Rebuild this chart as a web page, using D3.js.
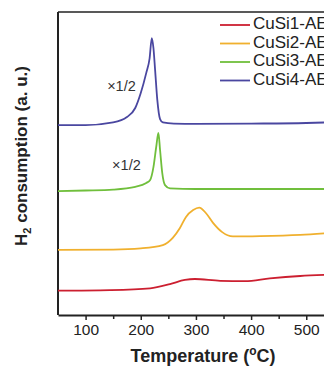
<!DOCTYPE html>
<html>
<head>
<meta charset="utf-8">
<script src="https://cdn.jsdelivr.net/npm/d3@7"></script>
<style>
  body { margin: 0; background: #fff; }
  svg { display: block; font-family: Arial, "Liberation Sans", sans-serif; }
</style>
</head>
<body>
<div id="chart"></div>
<script>
const width = 324;
const height = 366;
const margin = {'top': 12, 'bottom': 51, 'left': 58};

// series names and colours
const seriesNames = ['CuSi1-AE', 'CuSi2-AE', 'CuSi3-AE', 'CuSi4-AE'];
const seriesColors = ['#cc1f30', '#f0b02e', '#70bf3c', '#4a47a0'];

// temperature (oC) and H2 signal (a.u., offset per curve)
const cusi1T = [50, 144, 217, 253, 280, 298, 344, 389, 434, 489, 540];
const cusi1V = [0.81, 0.83, 0.89, 1.03, 1.17, 1.2, 1.14, 1.13, 1.22, 1.3, 1.34];

const cusi2T = [50, 150, 200, 240, 258, 271, 282, 295, 306, 318, 331, 347, 367, 416, 489, 540];
const cusi2V = [2.17, 2.18, 2.22, 2.33, 2.57, 2.9, 3.27, 3.5, 3.58, 3.4, 3.07, 2.77, 2.62, 2.63, 2.67, 2.73];

const cusi3T = [50, 100, 150, 190, 210, 217, 223, 228, 232, 235, 239, 244, 253, 300, 400, 540];
const cusi3V = [4.13, 4.15, 4.18, 4.27, 4.4, 4.5, 4.93, 5.6, 6.07, 5.5, 4.73, 4.33, 4.22, 4.2, 4.2, 4.2];

const cusi4T = [50, 100, 150, 175, 190, 200, 210, 216, 220, 223, 226, 230, 235, 240, 260, 300, 400, 500, 540];
const cusi4V = [6.33, 6.33, 6.42, 6.6, 6.9, 7.4, 8.07, 8.55, 9.23, 8.9, 8.17, 7.17, 6.53, 6.42, 6.38, 6.37, 6.38, 6.4, 6.42];

const xTicks = [100, 200, 300, 400, 500];
const xMinorTicks = [150, 250, 350, 450, 550];

// notes on the halved curves
const notes = [{'text': '\u00d71/2', 't': 165, 'v': 7.6}, {'text': '\u00d71/2', 't': 174, 'v': 4.97}];

const series = [
    {name: seriesNames[0], color: seriesColors[0], t: cusi1T, v: cusi1V},
    {name: seriesNames[1], color: seriesColors[1], t: cusi2T, v: cusi2V},
    {name: seriesNames[2], color: seriesColors[2], t: cusi3T, v: cusi3V},
    {name: seriesNames[3], color: seriesColors[3], t: cusi4T, v: cusi4V}
];

const svg = d3.select('#chart')
    .append('svg')
    .attr('width', width)
    .attr('height', height);

// x scale runs past the right edge (figure is cropped)
const xScale = d3.scaleLinear()
    .domain([50, 600])
    .range([margin.left, margin.left + 550 * 0.5517]);

const yScale = d3.scaleLinear()
    .domain([0, 10.1])
    .range([height - margin.bottom, margin.top]);

const plotBottom = height - margin.bottom;

// minor ticks
svg.append('g')
    .attr('transform', 'translate(0,' + plotBottom + ')')
    .call(d3.axisBottom(xScale).tickValues(xMinorTicks).tickSize(4).tickFormat(''))
    .call(g => g.select('.domain').remove())
    .selectAll('line').attr('stroke', '#222').attr('stroke-width', 1.5);

// x axis
const xg = svg.append('g')
    .attr('transform', 'translate(0,' + plotBottom + ')')
    .call(d3.axisBottom(xScale).tickValues(xTicks).tickSize(5).tickSizeOuter(0).tickPadding(4));
xg.select('.domain').attr('stroke', '#222').attr('stroke-width', 2);
xg.selectAll('line').attr('stroke', '#222').attr('stroke-width', 1.5);
xg.selectAll('text')
    .attr('font-size', 15.5)
    .attr('font-family', 'Arial, "Liberation Sans", sans-serif')
    .attr('fill', '#222');

// left axis (no ticks) and top border
svg.append('line')
    .attr('x1', margin.left).attr('x2', margin.left)
    .attr('y1', margin.top).attr('y2', plotBottom)
    .attr('stroke', '#222').attr('stroke-width', 2);
svg.append('line')
    .attr('x1', margin.left).attr('x2', width)
    .attr('y1', margin.top).attr('y2', margin.top)
    .attr('stroke', '#222').attr('stroke-width', 1.5);

// curves
const line = d3.line()
    .x(d => xScale(d[0]))
    .y(d => yScale(d[1]))
    .curve(d3.curveMonotoneX);

series.forEach(s => {
    svg.append('path')
        .datum(s.t.map((t, i) => [t, s.v[i]]))
        .attr('fill', 'none')
        .attr('stroke', s.color)
        .attr('stroke-width', 1.8)
        .attr('d', line);
});

// x1/2 notes
notes.forEach(n => {
    svg.append('text')
        .attr('x', xScale(n.t))
        .attr('y', yScale(n.v))
        .attr('text-anchor', 'middle')
        .attr('dominant-baseline', 'middle')
        .attr('font-size', 14.5)
        .attr('fill', '#333')
        .text(n.text);
});

// legend
const legend = svg.append('g');
series.forEach((s, i) => {
    const y = 25 + i * 18.5;
    legend.append('line')
        .attr('x1', 220).attr('x2', 250)
        .attr('y1', y).attr('y2', y)
        .attr('stroke', s.color)
        .attr('stroke-width', 1.8);
    legend.append('text')
        .attr('x', 253)
        .attr('y', y)
        .attr('dominant-baseline', 'middle')
        .attr('font-size', 17)
        .attr('fill', '#222')
        .text(s.name);
});

// axis titles
const xTitle = svg.append('text')
    .attr('x', 203)
    .attr('y', 362)
    .attr('text-anchor', 'middle')
    .attr('font-size', 18)
    .attr('font-weight', 'bold')
    .attr('fill', '#222');
xTitle.append('tspan').text('Temperature (');
xTitle.append('tspan').attr('dy', -7).attr('font-size', 12).text('o');
xTitle.append('tspan').attr('dy', 7).text('C)');

const yTitle = svg.append('text')
    .attr('transform', 'translate(27,156) rotate(-90)')
    .attr('text-anchor', 'middle')
    .attr('font-size', 17)
    .attr('font-weight', 'bold')
    .attr('fill', '#222');
yTitle.append('tspan').text('H');
yTitle.append('tspan').attr('dy', 4).attr('font-size', 11).text('2');
yTitle.append('tspan').attr('dy', -4).text(' consumption (a. u.)');
</script>
</body>
</html>
